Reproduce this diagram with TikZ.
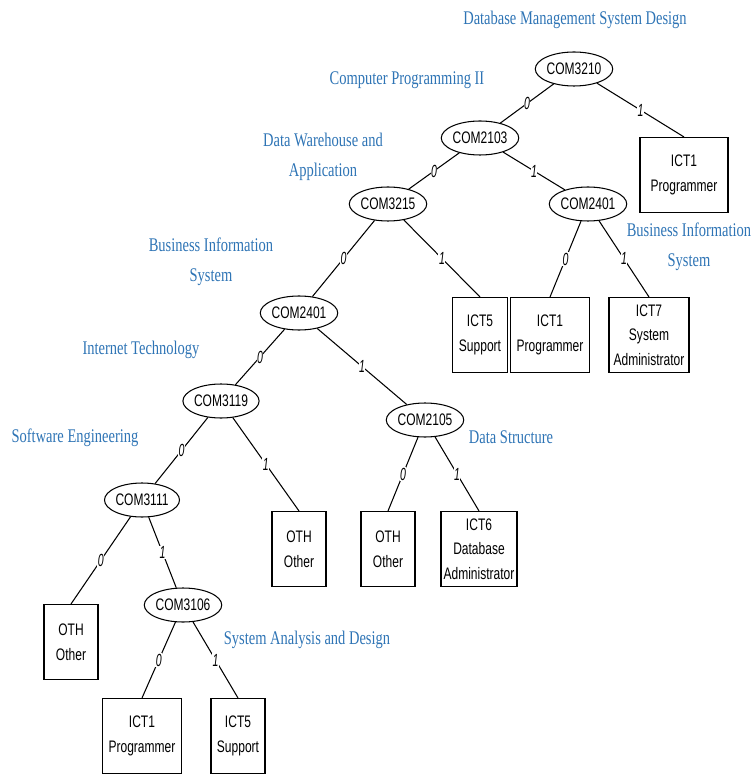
\documentclass[tikz,border=0pt]{standalone}
\usepackage{fontspec}
\newfontfamily\treefont[FakeStretch=0.72]{Liberation Sans}
\newfontfamily\bitfont[FakeStretch=0.6]{Liberation Sans}
\newfontfamily\topicfont[FakeStretch=0.75]{Liberation Serif}
\usetikzlibrary{shapes.geometric, positioning}
\definecolor{topicblue}{RGB}{46,116,181}

\begin{document}
\begin{tikzpicture}[x=0.02cm, y=-0.02cm, semithick]
  \tikzstyle{course}=[draw, ellipse, minimum width=1.5cm, minimum height=0.68cm, inner sep=0pt, font=\treefont\fontsize{9.5}{14}\selectfont]
  \tikzstyle{job}=[draw, rectangle, minimum height=1.5cm, inner sep=1pt, align=center, font=\treefont\fontsize{9.5}{14}\selectfont]
  \tikzstyle{topic}=[text=topicblue, align=center, font=\topicfont\fontsize{11}{17}\selectfont]
  \tikzstyle{bit}=[fill=white, inner sep=0.3pt, font=\bitfont\itshape\fontsize{10}{10}\selectfont]

  \useasboundingbox (0,0) rectangle (753,776);

  \node[course]                       (c3210)  at (574,69)  {COM3210};
  \node[course]                       (c2103)  at (480,138) {COM2103};
  \node[job, minimum width=1.76cm]    (j1a)    at (684,175) {ICT1\\Programmer};
  \node[course]                       (c3215)  at (388,204) {COM3215};
  \node[course]                       (c2401a) at (588,204) {COM2401};
  \node[job, minimum width=1.1cm]     (j5a)    at (480,335) {ICT5\\Support};
  \node[job, minimum width=1.58cm]    (j1b)    at (550,335) {ICT1\\Programmer};
  \node[job, minimum width=1.6cm]     (j7)     at (649,335) {ICT7\\System\\Administrator};
  \node[course]                       (c2401b) at (299,313) {COM2401};
  \node[course]                       (c3119)  at (221,401) {COM3119};
  \node[course]                       (c2105)  at (425,420) {COM2105};
  \node[course]                       (c3111)  at (142,500) {COM3111};
  \node[job, minimum width=1.08cm]    (oa)     at (299,549) {OTH\\Other};
  \node[job, minimum width=1.08cm]    (ob)     at (388,549) {OTH\\Other};
  \node[job, minimum width=1.52cm]    (j6)     at (479,549) {ICT6\\Database\\Administrator};
  \node[job, minimum width=1.08cm]    (oc)     at (71,642)  {OTH\\Other};
  \node[course]                       (c3106)  at (183,605) {COM3106};
  \node[job, minimum width=1.58cm]    (j1c)    at (142,736) {ICT1\\Programmer};
  \node[job, minimum width=1.08cm]    (j5b)    at (238,736) {ICT5\\Support};

  % subject names
  \node[topic] (tdbms)  at (575,20)  {Database Management System Design};
  \node[topic] (tcp)    at (407,80)  {Computer Programming II};
  \node[topic] (tdw)    at (323,157) {Data Warehouse and\\Application};
  \node[topic] (tbisa)  at (211,262) {Business Information\\System};
  \node[topic] (tit)    at (141,350) {Internet Technology};
  \node[topic] (tse)    at (75,438)  {Software Engineering};
  \node[topic] (tbisb)  at (689,247) {Business Information\\System};
  \node[topic] (tds)    at (511,437) {Data Structure};
  \node[topic] (tsad)   at (307,640) {System Analysis and Design};

  \draw (c3210)  -- node[bit] {0} (c2103);
  \draw (c3210)  -- node[bit] {1} (j1a.north);
  \draw (c2103)  -- node[bit] {0} (c3215);
  \draw (c2103)  -- node[bit] {1} (c2401a);
  \draw (c3215)  -- node[bit] {0} (c2401b);
  \draw (c3215)  -- node[bit] {1} (j5a.north);
  \draw (c2401a) -- node[bit] {0} (j1b.north);
  \draw (c2401a) -- node[bit] {1} (j7.north);
  \draw (c2401b) -- node[bit] {0} (c3119);
  \draw (c2401b) -- node[bit] {1} (c2105);
  \draw (c3119)  -- node[bit] {0} (c3111);
  \draw (c3119)  -- node[bit] {1} (oa.north);
  \draw (c2105)  -- node[bit] {0} (ob.north);
  \draw (c2105)  -- node[bit] {1} (j6.north);
  \draw (c3111)  -- node[bit] {0} (oc.north);
  \draw (c3111)  -- node[bit] {1} (c3106);
  \draw (c3106)  -- node[bit] {0} (j1c.north);
  \draw (c3106)  -- node[bit] {1} (j5b.north);
\end{tikzpicture}
\end{document}
